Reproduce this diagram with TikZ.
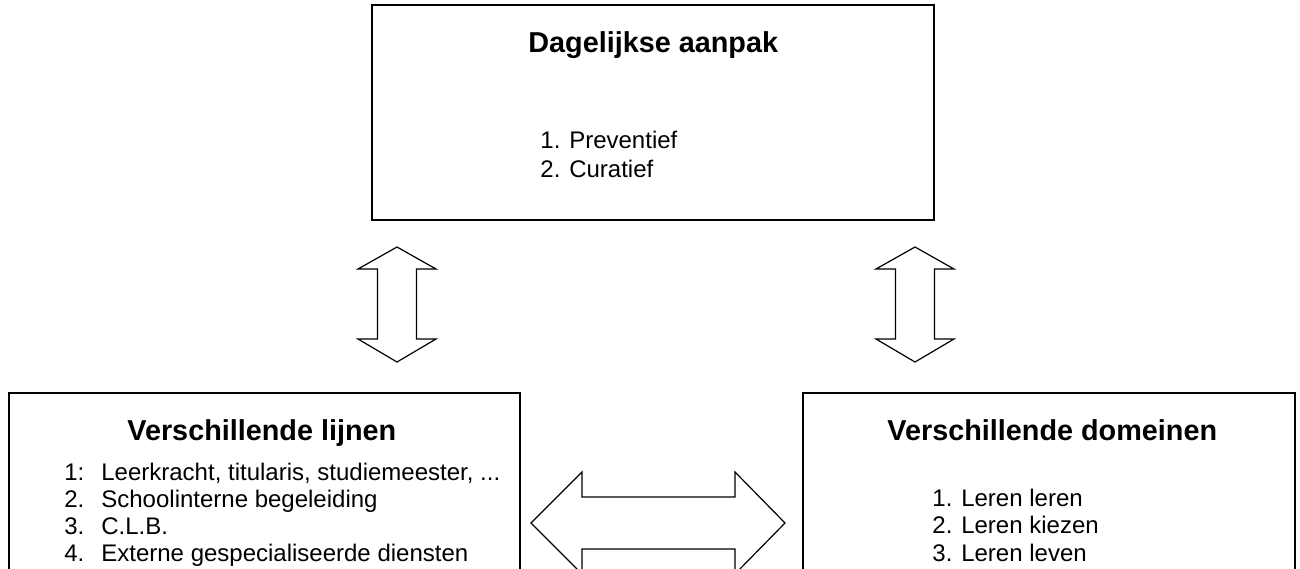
\documentclass[tikz,border=0pt]{standalone}
\usepackage{fontspec}
\setmainfont{Liberation Sans}
\tikzset{
  kader/.style={draw, line width=1pt, inner sep=0pt},
  titel/.style={anchor=base west, inner sep=0pt, font=\fontsize{14.4}{16}\selectfont\bfseries},
  regel/.style={anchor=base west, inner sep=0pt, font=\fontsize{12}{14}\selectfont},
  blokpijl/.style={draw, line width=0.6pt, line join=miter, fill=white}
}
\newcommand{\nummer}[1]{\makebox[18.5pt][l]{#1}}
\begin{document}
\begin{tikzpicture}[x=0.5pt,y=-0.5pt]
      \useasboundingbox (0,0) rectangle (1300,568);
      \clip (0,0) rectangle (1300,568);
      % kaders
      \node[kader, minimum width=281pt, minimum height=107.5pt] (aanpak) at (653,112.5) {};
      \node[kader, minimum width=255.5pt, minimum height=113.5pt] (lijnen) at (264.5,506.5) {};
      \node[kader, minimum width=246pt, minimum height=113.5pt] (domeinen) at (1049,506.5) {};
      % dagelijkse aanpak
      \node[titel] (aanpakT) at (528,52) {Dagelijkse aanpak};
      \node[regel] (aanpak1) at (540,148) {1. Preventief};
      \node[regel] (aanpak2) at (540,177) {2. Curatief};
      % verschillende lijnen
      \node[titel] (lijnenT) at (127,440) {Verschillende lijnen};
      \node[regel] (lijnen1) at (64,480) {\nummer{1:}Leerkracht, titularis, studiemeester, ...};
      \node[regel] (lijnen2) at (64,507) {\nummer{2.}Schoolinterne begeleiding};
      \node[regel] (lijnen3) at (64,534) {\nummer{3.}C.L.B.};
      \node[regel] (lijnen4) at (64,561) {\nummer{4.}Externe gespecialiseerde diensten};
      % verschillende domeinen
      \node[titel] (domeinenT) at (887,440) {Verschillende domeinen};
      \node[regel] (domeinen1) at (932,506) {1. Leren leren};
      \node[regel] (domeinen2) at (932,533) {2. Leren kiezen};
      \node[regel] (domeinen3) at (932,561) {3. Leren leven};
      % pijlen
      \draw[blokpijl] (397,247) -- (436,269) -- (416.5,269) -- (416.5,339) -- (436,339)
        -- (397,362) -- (358,339) -- (377.5,339) -- (377.5,269) -- (358,269) -- cycle;
      \draw[blokpijl] (915,247) -- (954,269) -- (934.5,269) -- (934.5,339) -- (954,339)
        -- (915,362) -- (876,339) -- (895.5,339) -- (895.5,269) -- (876,269) -- cycle;
      \draw[blokpijl] (531,523) -- (582,472) -- (582,497) -- (735,497) -- (735,472)
        -- (785,523) -- (735,574) -- (735,549) -- (582,549) -- (582,574) -- cycle;
    \end{tikzpicture}
\end{document}
